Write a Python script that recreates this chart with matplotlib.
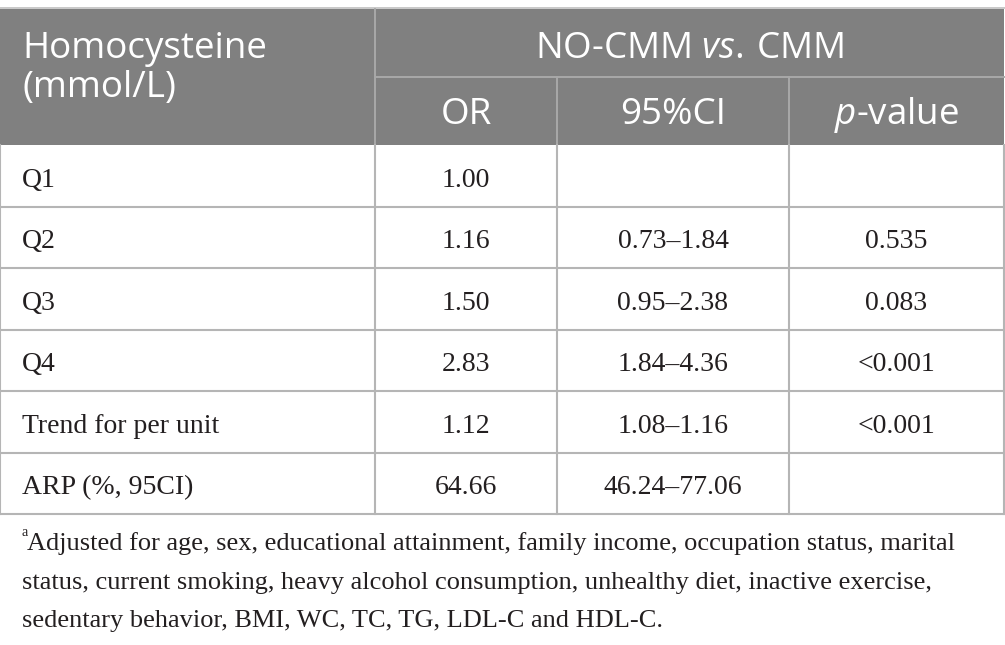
import matplotlib
matplotlib.use("Agg")
import matplotlib.pyplot as plt
from matplotlib.patches import Rectangle

# table content
group_title = ["Homocysteine", "(mmol/L)"]
span_title = "NO-CMM $vs.\\,$CMM"
sub_headers = ["OR", "95%CI", "$p$-value"]
row_labels = ["Q1", "Q2", "Q3", "Q4", "Trend for per unit", "ARP (%, 95CI)"]
or_values = ["1.00", "1.16", "1.50", "2.83", "1.12", "64.66"]
ci_values = ["", "0.73\u20131.84", "0.95\u20132.38", "1.84\u20134.36", "1.08\u20131.16", "46.24\u201377.06"]
p_values = ["", "0.535", "0.083", "<0.001", "<0.001", ""]
footnote = ["Adjusted for age, sex, educational attainment, family income, occupation status, marital",
            "status, current smoking, heavy alcohol consumption, unhealthy diet, inactive exercise,",
            "sedentary behavior, BMI, WC, TC, TG, LDL-C and HDL-C."]

plt.rcParams["mathtext.fontset"] = "custom"
plt.rcParams["mathtext.rm"] = "Open Sans"
plt.rcParams["mathtext.it"] = "Open Sans:italic"

# layout in pixels
W, H = 1005, 645
col_edges = [0, 375, 557, 789, 1004]
head_top, head_mid, head_bot = 9, 77, 145
row_h = 61.5
head_fill = "#808080"
head_line = "#a9a9a9"
grid = "#b5b5b5"
ink = "#231f20"
sans = "Open Sans"
serif = "Liberation Serif"
hsize = 26.5
bsize = 20

fig = plt.figure(figsize=(W / 100, H / 100), dpi=100)
ax = fig.add_axes([0, 0, 1, 1])
ax.set_xlim(0, W)
ax.set_ylim(H, 0)
ax.axis("off")

hfont = dict(fontsize=hsize, family=sans, color="white", va="baseline")

# header block
ax.add_patch(Rectangle((0, head_top), col_edges[-1], head_bot - head_top,
                       facecolor=head_fill, edgecolor="none"))
ax.plot([0, col_edges[-1]], [head_top - 1, head_top - 1], color="#c8c8c8", lw=1.4)
ax.plot([col_edges[1], col_edges[1]], [head_top, head_bot], color=head_line, lw=1.4)
ax.plot([col_edges[1], col_edges[-1]], [head_mid, head_mid], color=head_line, lw=1.4)
for x in col_edges[2:4]:
    ax.plot([x, x], [head_mid, head_bot], color=head_line, lw=1.4)

ax.text(22, 58, group_title[0], **hfont)
ax.text(22, 97, group_title[1], **hfont)
ax.text((col_edges[1] + col_edges[-1]) / 2, 58, span_title, ha="center", **hfont)
for i, s in enumerate(sub_headers):
    cx = (col_edges[i + 1] + col_edges[i + 2]) / 2
    ax.text(cx, 124, s, ha="center", **hfont)

# body rows
n = len(row_labels)
bottom = head_bot + n * row_h
for k in range(1, n + 1):
    y = head_bot + k * row_h
    ax.plot([0, col_edges[-1]], [y, y], color=grid, lw=1.5)
for x in col_edges:
    ax.plot([x, x], [head_bot, bottom], color=grid, lw=1.5)

for k in range(n):
    base = head_bot + k * row_h + row_h / 2 + 11
    ax.text(22, base, row_labels[k], fontsize=bsize, family=serif, color=ink, va="baseline")
    for j, col in enumerate([or_values, ci_values, p_values]):
        cx = (col_edges[j + 1] + col_edges[j + 2]) / 2
        ax.text(cx, base, col[k], fontsize=bsize, family=serif, color=ink, ha="center", va="baseline")

# footnote
ax.text(21, 536, "a", fontsize=10, family=serif, color=ink, va="baseline")
for i, line in enumerate(footnote):
    x0 = 27 if i == 0 else 22
    ax.text(x0, 550 + i * 38.5, line, fontsize=19, family=serif, color=ink, va="baseline")

fig.savefig("out.png", dpi=100)
